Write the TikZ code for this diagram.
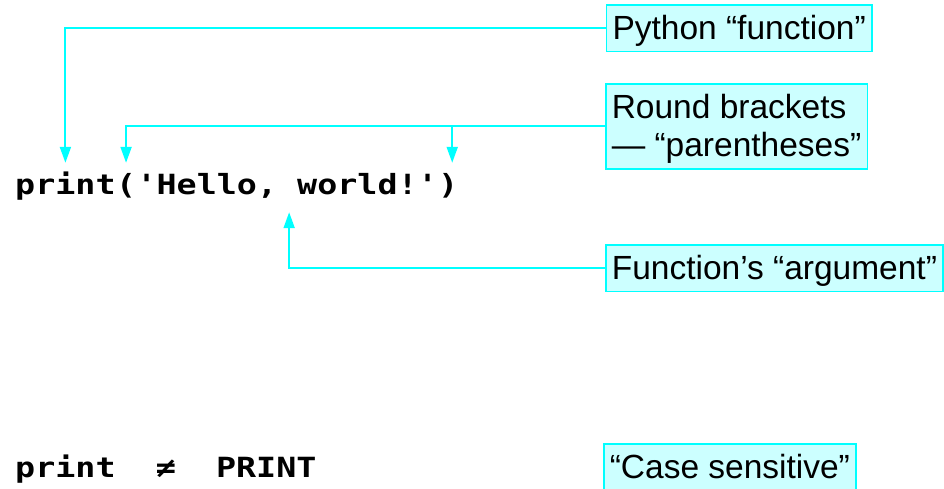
\documentclass[tikz,border=0pt]{standalone}
\usepackage{fontspec}
\newfontfamily\NoteFamily{Liberation Sans}
\setmonofont[FakeStretch=1.2]{DejaVu Sans Mono}
\usepackage{xcolor}
\definecolor{Aqua}{RGB}{0,255,255}
\definecolor{AquaLight}{RGB}{204,255,255}
\usepackage{tikz}
\usetikzlibrary{positioning}
\usetikzlibrary{arrows.meta}
\newcommand{\NoteStrut}{\rule[-8pt]{0pt}{38pt}}
\tikzstyle{Code}=[inner sep=0pt,text height=21pt,text depth=8pt,
font=\ttfamily\bfseries\fontsize{27.8}{33}\selectfont]
\tikzstyle{Note}=[draw=Aqua,fill=AquaLight,line width=1.6pt,
anchor=north west,inner xsep=6pt,inner ysep=4.3pt,align=left,
font=\NoteFamily\fontsize{33.5}{38}\selectfont]
\tikzstyle{Link}=[draw=Aqua,line width=2pt,shorten >=10pt,
-{Triangle[width=11pt,length=16pt]}]
\begin{document}
\begin{tikzpicture}[x=1pt,y=1pt]
        \useasboundingbox(0,0)rectangle(944,-488);
        \node[Code,anchor=base west](print)at(15,-194){print};
        \node[Code,base right=0pt of print](lpar){(};
        \node[Code,base right=0pt of lpar](str){'Hello, world!'};
        \node[Code,base right=0pt of str](rpar){)};
        \node[Code,anchor=base west](caps)at(15,-477){print~~≠~~PRINT};
        \node[Note](fn)at(605.7,-4){\NoteStrut Python “function”};
        \node[Note](paren)at(605,-83.3)
            {\NoteStrut Round brackets\\\NoteStrut — “parentheses”};
        \node[Note](arg)at(605,-244){\NoteStrut Function’s “argument”};
        \node[Note](case)at(603,-443){\NoteStrut “Case sensitive”};
        \draw[Link](fn.west)-|(print.north);
        \draw[Link](paren.west)-|(lpar.north);
        \draw[Link](paren.west)-|([xshift=4pt]rpar.north);
        \draw[Link](arg.west)-|([xshift=2pt]str.south);
    \end{tikzpicture}
\end{document}
